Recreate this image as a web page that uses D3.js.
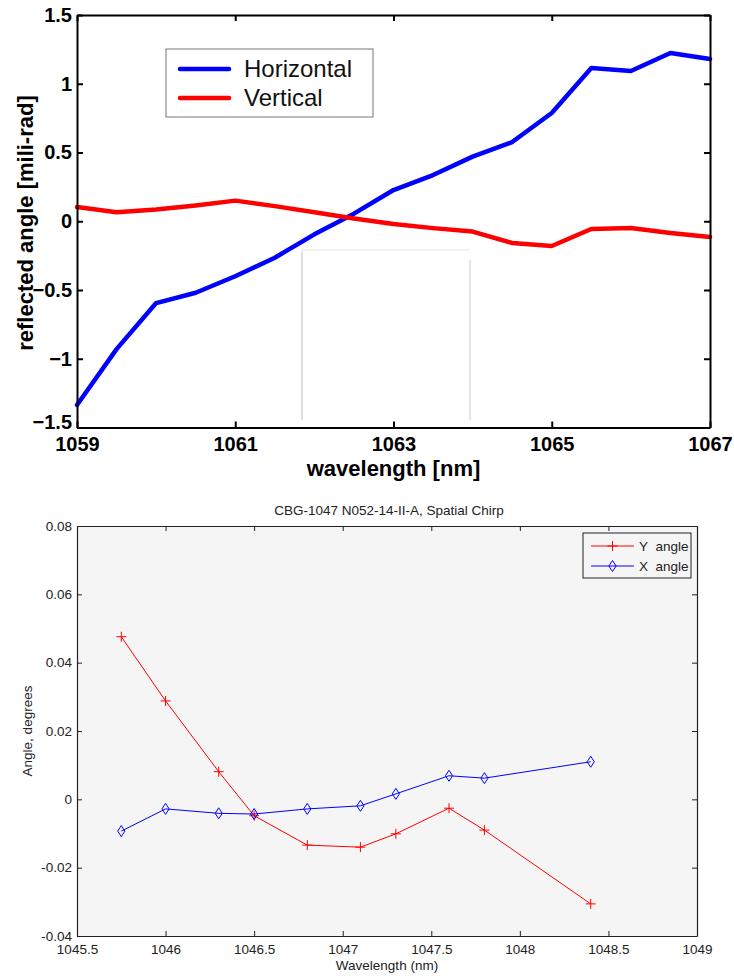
<!DOCTYPE html>
<html>
<head>
<meta charset="utf-8">
<script src="https://cdn.jsdelivr.net/npm/d3@7"></script>
<style>
  html, body { margin: 0; padding: 0; background: #fff; }
  svg { display: block; }
</style>
</head>
<body>
<svg id="chart" width="734" height="978"></svg>
<script>
// ---- Upper panel: reflected angle vs wavelength ----
const topWavelength = [1059, 1059.5, 1060, 1060.5, 1061, 1061.5, 1062, 1062.5, 1063,
                       1063.5, 1064, 1064.5, 1065, 1065.5, 1066, 1066.5, 1067];
const horizontal = [-1.336, -0.93, -0.595, -0.52, -0.40, -0.265, -0.095, 0.055, 0.227,
                    0.336, 0.47, 0.576, 0.787, 1.115, 1.093, 1.224, 1.18];
const vertical = [0.104, 0.065, 0.085, 0.115, 0.15, 0.11, 0.065, 0.02, -0.02,
                  -0.05, -0.075, -0.158, -0.18, -0.056, -0.049, -0.086, -0.115];
const topXTicks = [1059, 1061, 1063, 1065, 1067];
const topYTicks = [-1.5, -1, -0.5, 0, 0.5, 1, 1.5];
const topSeriesNames = ["Horizontal", "Vertical"];

// ---- Lower panel: spatial chirp ----
const bottomTitle = "CBG-1047 N052-14-II-A, Spatial Chirp";
const bottomWavelength = [1045.75, 1046.0, 1046.3, 1046.5, 1046.8, 1047.1, 1047.3, 1047.6, 1047.8, 1048.4];
const yAngle = [0.0476, 0.0288, 0.0081, -0.0048, -0.0134, -0.0140, -0.0101, -0.0026, -0.0090, -0.0306];
const xAngle = [-0.0093, -0.0028, -0.0041, -0.0043, -0.0028, -0.0019, 0.0016, 0.0069, 0.0062, 0.0110];
const bottomXTicks = [1045.5, 1046, 1046.5, 1047, 1047.5, 1048, 1048.5, 1049];
const bottomYTicks = [-0.04, -0.02, 0, 0.02, 0.04, 0.06, 0.08];
const bottomSeriesNames = ["Y angle", "X angle"];

const svg = d3.select("#chart");
svg.append("rect").attr("width", 734).attr("height", 978).attr("fill", "#fff");

const boldFont = "'Liberation Sans', Arial, Helvetica, sans-serif";

// ================= Upper panel =================
{
  const L = 77, R = 710, T = 15, B = 427.5;
  const x = d3.scaleLinear().domain([1059, 1067]).range([L, R]);
  const y = d3.scaleLinear().domain([-1.5, 1.5]).range([B, T]);
  const g = svg.append("g");

  // faint window outline left over inside the plot area
  g.append("path")
    .attr("d", `M302,420V250H470`)
    .attr("fill", "none").attr("stroke", "#e4e4e8").attr("stroke-width", 1);
  g.append("path")
    .attr("d", `M302,420V252M470,420V260`)
    .attr("fill", "none").attr("stroke", "#c9cad2").attr("stroke-width", 1);

  const line = d3.line().x((d, i) => x(topWavelength[i])).y(d => y(d));
  const series = [
    { name: topSeriesNames[0], values: horizontal, color: "#0000ff" },
    { name: topSeriesNames[1], values: vertical, color: "#ff0000" }
  ];
  series.forEach(s => {
    g.append("path")
      .attr("d", line(s.values))
      .attr("fill", "none")
      .attr("stroke", s.color)
      .attr("stroke-width", 4.5)
      .attr("stroke-linejoin", "round")
      .attr("stroke-linecap", "round");
  });

  const styleAxis = (sel) => {
    sel.selectAll("path.domain").attr("stroke", "#000").attr("stroke-width", 2);
    sel.selectAll(".tick line").attr("stroke", "#000").attr("stroke-width", 2);
    sel.selectAll("text")
      .attr("font-family", boldFont).attr("font-weight", "bold")
      .attr("font-size", 20).attr("fill", "#000");
  };

  g.append("g").attr("transform", `translate(0,${B})`)
    .call(d3.axisBottom(x).tickValues(topXTicks).tickFormat(d3.format("d"))
      .tickSize(-6).tickSizeOuter(0).tickPadding(9))
    .call(styleAxis);
  g.append("g").attr("transform", `translate(0,${T})`)
    .call(d3.axisTop(x).tickValues(topXTicks).tickFormat("")
      .tickSize(-6).tickSizeOuter(0))
    .call(styleAxis);
  g.append("g").attr("transform", `translate(${L},0)`)
    .call(d3.axisLeft(y).tickValues(topYTicks).tickFormat(d => d3.format("")(d))
      .tickSize(-6).tickSizeOuter(0).tickPadding(5))
    .call(styleAxis)
    // lift the lowest label a little so it clears the first x label
    .call(sel => sel.selectAll(".tick text").filter(d => d === -1.5).attr("dy", "0.05em"));
  g.append("g").attr("transform", `translate(${R},0)`)
    .call(d3.axisRight(y).tickValues(topYTicks).tickFormat("")
      .tickSize(-6).tickSizeOuter(0))
    .call(styleAxis);

  // axis titles
  g.append("text")
    .attr("x", (L + R) / 2).attr("y", 476)
    .attr("text-anchor", "middle")
    .attr("font-family", boldFont).attr("font-weight", "bold").attr("font-size", 22)
    .text("wavelength [nm]");
  g.append("text")
    .attr("transform", `translate(33,223) rotate(-90)`)
    .attr("text-anchor", "middle")
    .attr("font-family", boldFont).attr("font-weight", "bold").attr("font-size", 22)
    .text("reflected angle [mili-rad]");

  // legend
  const lg = g.append("g");
  lg.append("rect").attr("x", 166).attr("y", 49).attr("width", 207).attr("height", 68)
    .attr("fill", "#fff").attr("stroke", "#777").attr("stroke-width", 1);
  series.forEach((s, i) => {
    const ly = 69 + i * 29;
    lg.append("line").attr("x1", 180).attr("x2", 229).attr("y1", ly).attr("y2", ly)
      .attr("stroke", s.color).attr("stroke-width", 4.5).attr("stroke-linecap", "round");
    lg.append("text").attr("x", 244).attr("y", ly + 8)
      .attr("font-family", boldFont).attr("font-size", 24).attr("fill", "#111")
      .text(s.name);
  });
}

// ================= Lower panel =================
{
  const L = 77, R = 697, T = 526, B = 936;
  const x = d3.scaleLinear().domain([1045.5, 1049]).range([L, R]);
  const y = d3.scaleLinear().domain([-0.04, 0.08]).range([B, T]);
  const g = svg.append("g");
  const font = "'Liberation Sans', Arial, Helvetica, sans-serif";

  g.append("rect").attr("x", L).attr("y", T).attr("width", R - L).attr("height", B - T)
    .attr("fill", "#f5f5f5");

  const styleAxis = (sel) => {
    sel.selectAll("path.domain").attr("stroke", "#222").attr("stroke-width", 1.2);
    sel.selectAll(".tick line").attr("stroke", "#222").attr("stroke-width", 1);
    sel.selectAll("text")
      .attr("font-family", font).attr("font-size", 13.5).attr("fill", "#222");
  };

  g.append("g").attr("transform", `translate(0,${B})`)
    .call(d3.axisBottom(x).tickValues(bottomXTicks).tickFormat(d => String(d))
      .tickSize(-5).tickSizeOuter(0).tickPadding(8))
    .call(styleAxis);
  g.append("g").attr("transform", `translate(0,${T})`)
    .call(d3.axisTop(x).tickValues(bottomXTicks).tickFormat("")
      .tickSize(-5).tickSizeOuter(0))
    .call(styleAxis);
  g.append("g").attr("transform", `translate(${L},0)`)
    .call(d3.axisLeft(y).tickValues(bottomYTicks).tickFormat(d => String(+d.toFixed(2)))
      .tickSize(-5).tickSizeOuter(0).tickPadding(5))
    .call(styleAxis);
  g.append("g").attr("transform", `translate(${R},0)`)
    .call(d3.axisRight(y).tickValues(bottomYTicks).tickFormat("")
      .tickSize(-5).tickSizeOuter(0))
    .call(styleAxis);

  const plusPath = "M-5,0H5M0,-5V5";
  const diamondPath = "M0,-5.5L3.6,0L0,5.5L-3.6,0Z";
  const series = [
    { name: bottomSeriesNames[0], values: yAngle, color: "#ff0000", marker: plusPath },
    { name: bottomSeriesNames[1], values: xAngle, color: "#0000ff", marker: diamondPath }
  ];
  const line = d3.line().x((d, i) => x(bottomWavelength[i])).y(d => y(d));
  series.forEach(s => {
    g.append("path").attr("d", line(s.values))
      .attr("fill", "none").attr("stroke", s.color).attr("stroke-width", 1);
    g.selectAll(null).data(s.values).enter().append("path")
      .attr("transform", (d, i) => `translate(${x(bottomWavelength[i])},${y(d)})`)
      .attr("d", s.marker)
      .attr("fill", "none").attr("stroke", s.color).attr("stroke-width", 1);
  });

  // title and axis labels
  g.append("text").attr("x", (L + R) / 2 + 2).attr("y", 515)
    .attr("text-anchor", "middle").attr("font-family", font).attr("font-size", 13.5)
    .attr("fill", "#222").text(bottomTitle);
  g.append("text").attr("x", (L + R) / 2).attr("y", 970)
    .attr("text-anchor", "middle").attr("font-family", font).attr("font-size", 13.5)
    .attr("fill", "#222").text("Wavelength (nm)");
  g.append("text").attr("transform", `translate(32,${(T + B) / 2}) rotate(-90)`)
    .attr("text-anchor", "middle").attr("font-family", font).attr("font-size", 13.5)
    .attr("fill", "#222").text("Angle, degrees");

  // legend
  const lg = g.append("g");
  lg.append("rect").attr("x", 583).attr("y", 533).attr("width", 108).attr("height", 45)
    .attr("fill", "#f5f5f5").attr("stroke", "#222").attr("stroke-width", 1);
  series.forEach((s, i) => {
    const ly = 546 + i * 20;
    lg.append("line").attr("x1", 591).attr("x2", 634).attr("y1", ly).attr("y2", ly)
      .attr("stroke", s.color).attr("stroke-width", 1);
    lg.append("path").attr("transform", `translate(612.5,${ly})`).attr("d", s.marker)
      .attr("fill", "none").attr("stroke", s.color).attr("stroke-width", 1);
    lg.append("text").attr("x", 639).attr("y", ly + 5)
      .attr("font-family", font).attr("font-size", 13.5).attr("fill", "#222")
      .text(s.name.replace(" ", "\u00a0 "));
  });
}
</script>
</body>
</html>
